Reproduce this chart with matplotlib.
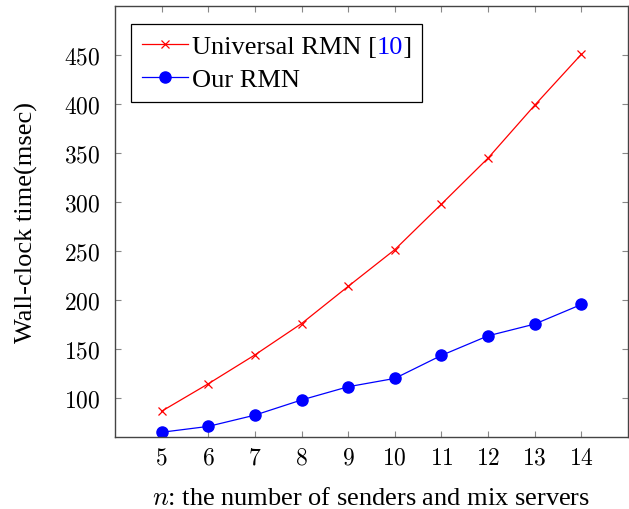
import matplotlib
matplotlib.use("Agg")
import matplotlib.pyplot as plt
import matplotlib.transforms as mtransforms
from matplotlib.ticker import FuncFormatter

plt.rcParams['font.family'] = ['Liberation Serif', 'DejaVu Serif']
plt.rcParams['mathtext.fontset'] = 'cm'

# data
n_vals = [5, 6, 7, 8, 9, 10, 11, 12, 13, 14]
universal_rmn = [86.5, 114.5, 144, 176, 214, 251.5, 298, 345, 399, 451]
our_rmn = [65, 71, 82.5, 98, 111.5, 120, 143.5, 163.5, 175.5, 195.5]
yticks = [100, 150, 200, 250, 300, 350, 400, 450]

fig = plt.figure(figsize=(6.29, 5.10), dpi=100)
ax = fig.add_axes([0.1828, 0.1418, 0.8156, 0.8439])

ax.plot(n_vals, universal_rmn, color='red', lw=0.9, marker='x', ms=6,
        mew=0.9, label='Universal RMN [    ]')
ax.plot(n_vals, our_rmn, color='blue', lw=0.9, marker='o', ms=8,
        label='Our RMN')

ax.set_xlim(4, 15)
ax.set_ylim(60.5, 500)
ax.set_xticks(n_vals)
ax.set_yticks(yticks)
fmt = FuncFormatter(lambda v, p: f"${v:g}$")
ax.xaxis.set_major_formatter(fmt)
ax.yaxis.set_major_formatter(fmt)
ax.tick_params(direction='in', length=4.5, width=0.8, color='#888888',
               labelsize=17, top=True, right=True)
ax.tick_params(axis='x', pad=8)
ax.tick_params(axis='y', pad=10.5)
for s in ax.spines.values():
    s.set_color('#444444')
    s.set_linewidth(1.0)

ax.set_xlabel('$n$: the number of senders and mix servers', fontsize=19,
              labelpad=13)
ax.set_ylabel('Wall-clock time(msec)', fontsize=19, labelpad=19)

leg = ax.legend(loc='upper left', bbox_to_anchor=(16 / 513, 1 - 18 / 430.4),
                borderaxespad=0, fontsize=19, handlelength=1.75,
                handletextpad=0.15, fancybox=False, framealpha=1,
                edgecolor='black', borderpad=0.4, labelspacing=0.36)
leg.get_frame().set_linewidth(0.9)

# blue citation number inside the first legend label
fig.canvas.draw()
renderer = fig.canvas.get_renderer()
t0 = leg.get_texts()[0]
x0, y0 = t0.get_transform().transform(t0.get_position())
probe = fig.text(0, 0, 'Universal RMN [', fontsize=19)
wpre = probe.get_window_extent(renderer).width
probe.remove()
fig.text(x0 + wpre, y0, '10', fontsize=19, color='blue', va='baseline',
         transform=mtransforms.IdentityTransform())

fig.savefig('out.png', dpi=100)
